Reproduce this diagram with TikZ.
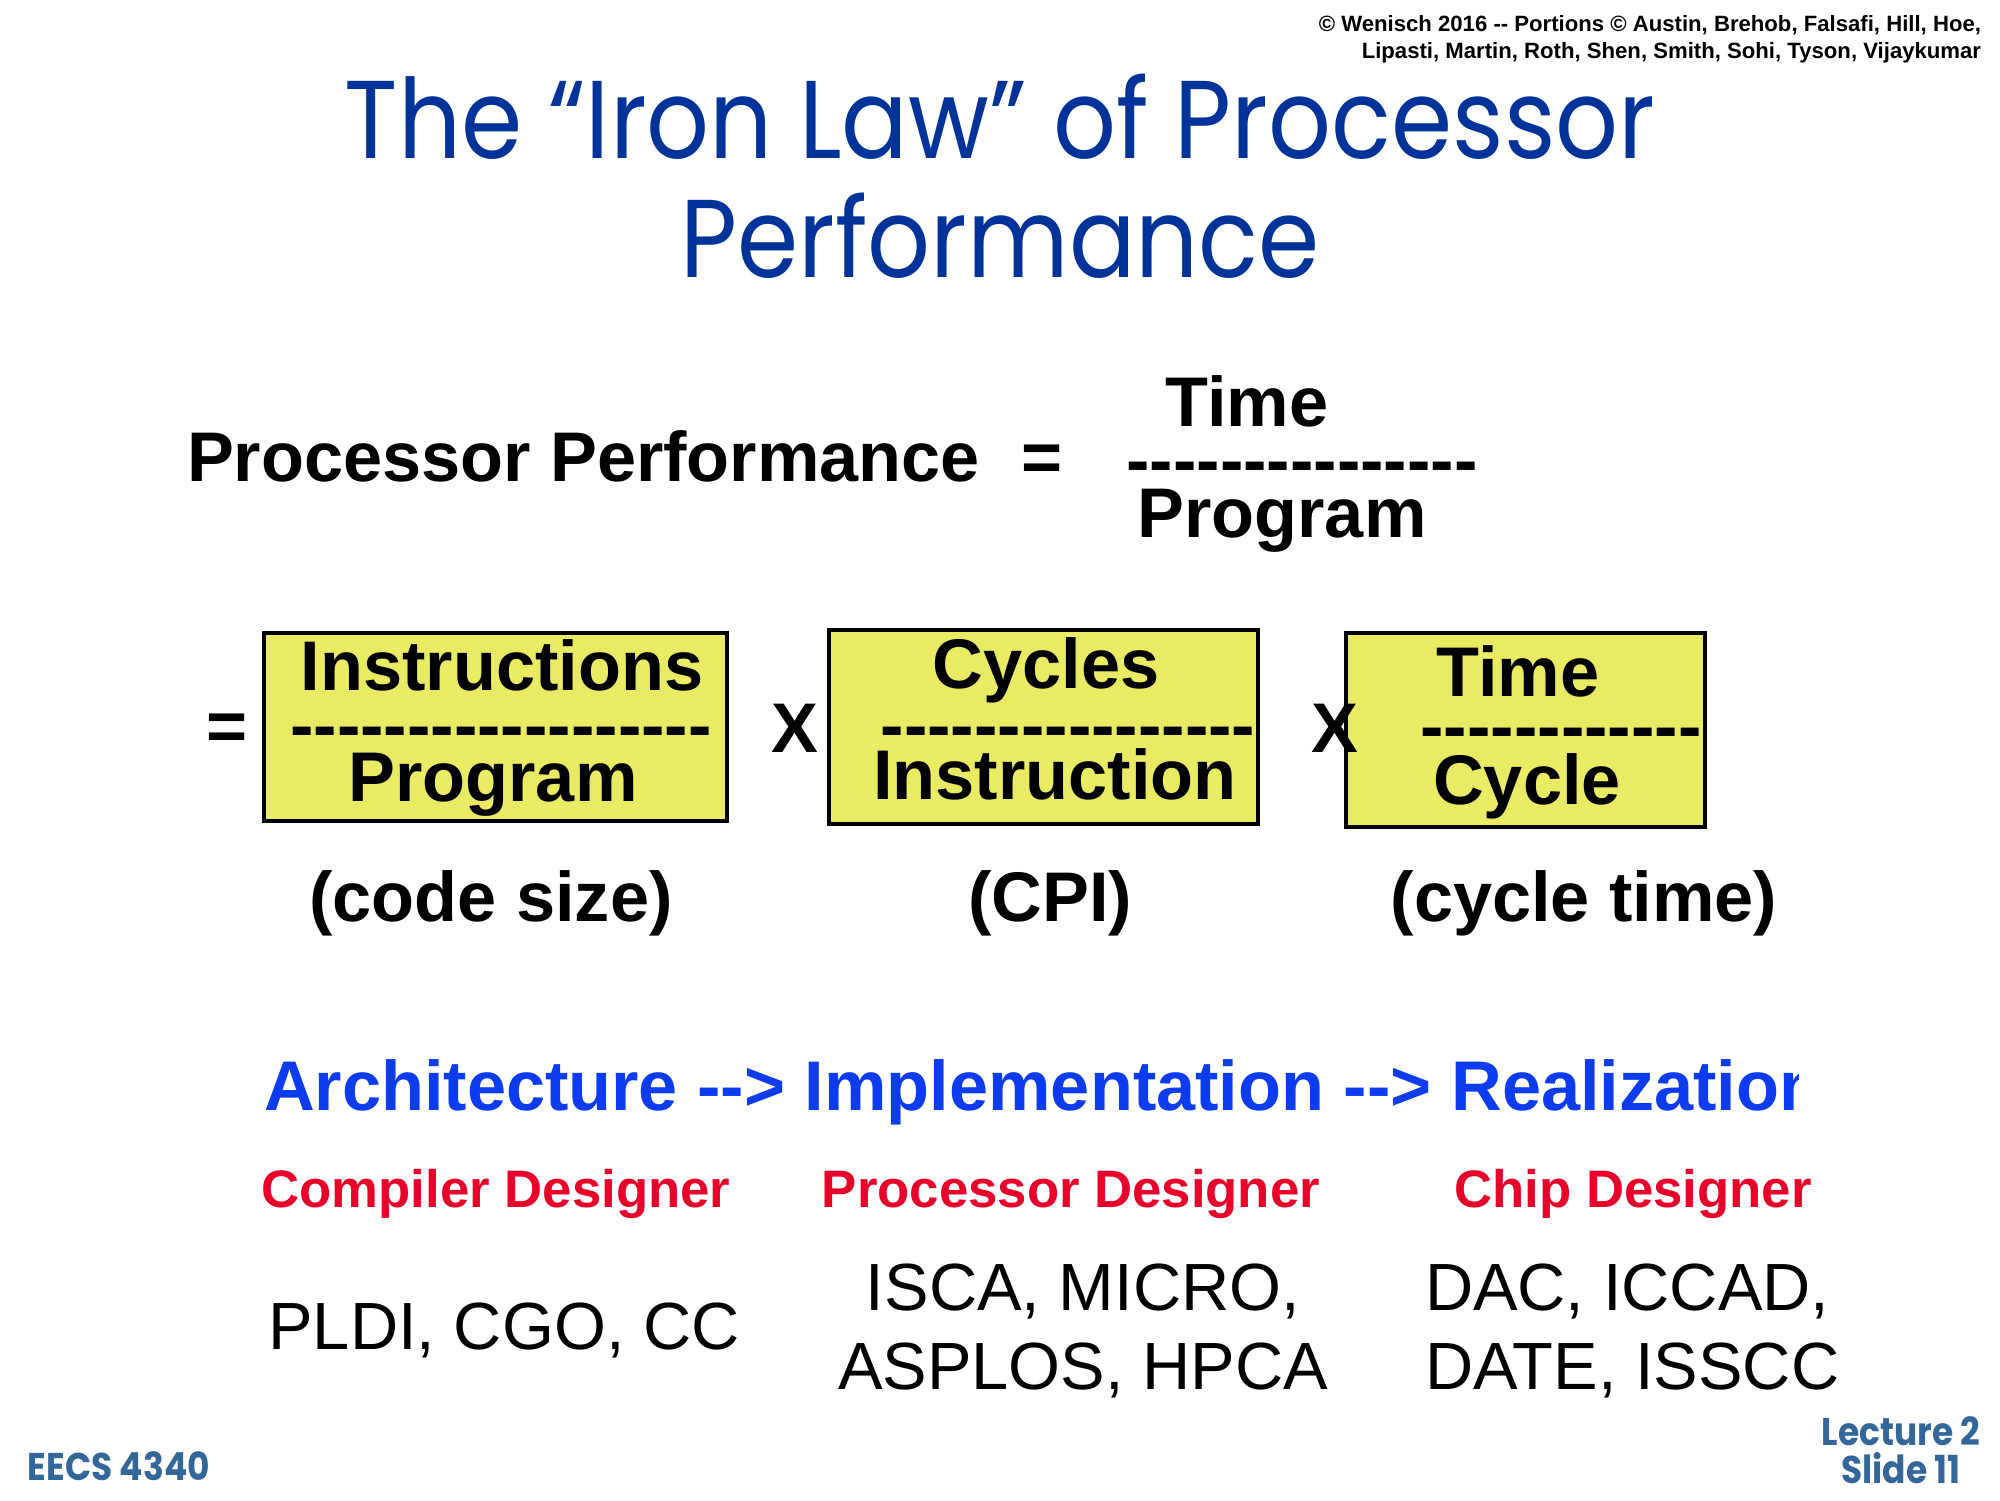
\documentclass[tikz,border=0pt]{standalone}
\usepackage{fontspec}
\setmainfont[Ligatures=TeXOff]{Liberation Sans}
\newfontfamily\comicfont[FakeStretch=0.89]{Poppins}

\definecolor{titleblue}{RGB}{0,51,153}
\definecolor{archblue}{RGB}{13,59,240}
\definecolor{designred}{RGB}{232,0,42}
\definecolor{footblue}{RGB}{51,102,153}
\definecolor{boxyellow}{RGB}{232,235,99}

\tikzset{
  every node/.style={inner sep=0pt, outer sep=0pt},
  big/.style={font=\bfseries\fontsize{20}{24}\selectfont},
  plain/.style={font=\fontsize{19}{23}\selectfont},
  ironbox/.style={draw=black, line width=0.9pt, fill=boxyellow},
  designer/.style={font=\bfseries\fontsize{15}{18}\selectfont, text=designred},
  foot/.style={font=\comicfont\bfseries\fontsize{11}{13.5}\selectfont, text=footblue}
}

\begin{document}
\begin{tikzpicture}
  \useasboundingbox[fill=white] (0,0) rectangle (20,15);
  % header
  \node[anchor=base east, align=right, font=\bfseries\fontsize{6.3}{7.7}\selectfont]
    (copy) at (19.81,14.41) {© Wenisch 2016 -- Portions © Austin, Brehob, Falsafi, Hill, Hoe,\\
    Lipasti, Martin, Roth, Shen, Smith, Sohi, Tyson, Vijaykumar};
  \node[anchor=base, font=\comicfont\fontsize{31.5}{36}\selectfont, text=titleblue]
    (title1) at (10.0,13.41) {The “Iron Law” of Processor};
  \node[anchor=base, font=\comicfont\fontsize{31.5}{36}\selectfont, text=titleblue]
    (title2) at (10.0,12.22) {Performance};
  % first line
  \node[big, anchor=base west] (perf) at (1.87,10.18) {Processor Performance};
  \node[big, anchor=base] (eqA) at (10.42,10.18) {=};
  \node[big, anchor=base] (timeA) at (12.47,10.73) {Time};
  \node[big, anchor=base] (barA) at (13.02,10.15) {---------------};
  \node[big, anchor=base] (progA) at (12.82,9.62) {Program};
  % the three factors
  \node[ironbox, minimum width=4.63cm, minimum height=1.88cm] (codebox) at (4.955,7.73) {};
  \node[ironbox, minimum width=4.29cm, minimum height=1.94cm] (cpibox) at (10.435,7.73) {};
  \node[ironbox, minimum width=3.59cm, minimum height=1.94cm] (cyclebox) at (15.255,7.70) {};
  \node[big, anchor=base] (eqB) at (2.27,7.49) {=};
  \node[big, anchor=base] (instA) at (5.02,8.10) {Instructions};
  \node[big, anchor=base] (barB) at (5.01,7.51) {------------------};
  \node[big, anchor=base] (progB) at (4.93,6.99) {Program};
  \node[big, anchor=base] (timesA) at (7.95,7.48) {X};
  \node[big, anchor=base] (cycA) at (10.46,8.11) {Cycles};
  \node[big, anchor=base] (barC) at (10.68,7.51) {----------------};
  \node[big, anchor=base] (instB) at (10.55,7.00) {Instruction};
  \node[big, anchor=base] (timesB) at (13.35,7.48) {X};
  \node[big, anchor=base] (timeB) at (15.18,8.04) {Time};
  \node[big, anchor=base] (barD) at (15.61,7.49) {------------};
  \node[big, anchor=base] (cycB) at (15.27,6.96) {Cycle};
  \node[big, anchor=base] (codesize) at (4.91,5.79) {(code size)};
  \node[big, anchor=base] (cpi) at (10.50,5.79) {(CPI)};
  \node[big, anchor=base] (cycletime) at (15.84,5.79) {(cycle time)};
  % who designs what
  \begin{scope}
    \clip (0,0) rectangle (17.98,15);
    \node[big, anchor=base west, text=archblue] (arch) at (2.64,3.90)
      {Architecture --> Implementation --> Realization};
  \end{scope}
  \node[designer, anchor=base] (compiler) at (4.96,2.93) {Compiler Designer};
  \node[designer, anchor=base] (processor) at (10.71,2.93) {Processor Designer};
  \node[designer, anchor=base] (chip) at (16.33,2.93) {Chip Designer};
  \node[plain, anchor=base] (confA) at (5.04,1.51) {PLDI, CGO, CC};
  \node[plain, anchor=base] (confB) at (10.83,1.90) {ISCA, MICRO,};
  \node[plain, anchor=base] (confC) at (10.83,1.11) {ASPLOS, HPCA};
  \node[plain, anchor=base west] (confD) at (14.25,1.90) {DAC, ICCAD,};
  \node[plain, anchor=base west] (confE) at (14.25,1.11) {DATE, ISSCC};
  % footer
  \node[foot, anchor=base west] (course) at (0.28,0.20) {EECS 4340};
  \node[foot, anchor=base] (slide) at (19.01,0.55) {Lecture 2};
  \node[foot, anchor=base] (slideno) at (19.01,0.17) {Slide 11};
\end{tikzpicture}
\end{document}
